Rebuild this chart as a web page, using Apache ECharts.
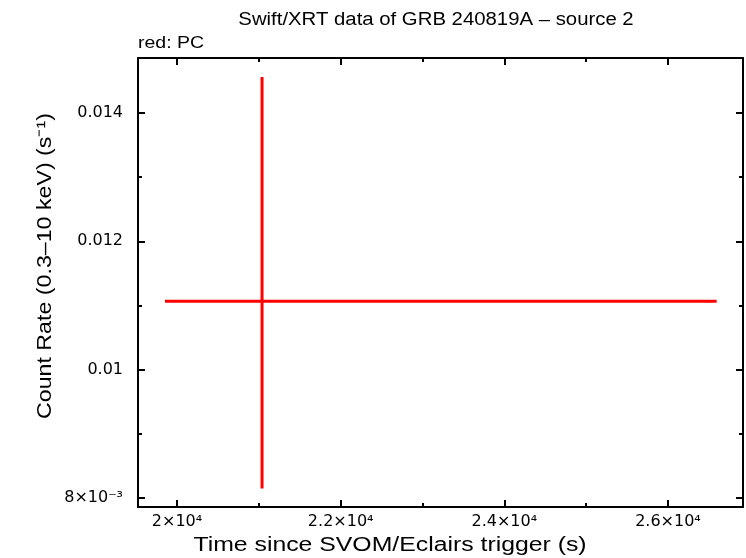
<!DOCTYPE html>
<html><head><meta charset="utf-8">
<script src="https://cdn.jsdelivr.net/npm/echarts@6/dist/echarts.min.js"></script>
<style>html,body{margin:0;padding:0;background:#fff}#c{width:746px;height:558px}</style>
</head><body><div id="c"></div>
<script>
// Data
const xCenter = [21039];
const xLow = [19853];
const xHigh = [26595];
const yCenter = [0.011065];
const yLow = [0.00815];
const yHigh = [0.014561];
// Axis ranges and tick labels
const xRange = [19523, 26917];
const yRange = [0.00786, 0.014857];
const xTickLabels = {20000: '2×10⁴', 22000: '2.2×10⁴', 24000: '2.4×10⁴', 26000: '2.6×10⁴'};
const yTickLabels = {8: '8×10⁻³', 10: '0.01', 12: '0.012', 14: '0.014'};
// Texts
const titleText = 'Swift/XRT data of GRB 240819A – source 2';
const subText = 'red: PC';
const xName = 'Time since SVOM/Eclairs trigger (s)';
const yName = 'Count Rate (0.3–10 keV) (s⁻¹)';

const FONT = '"Liberation Sans", Arial, Helvetica, sans-serif';
const TICKFONT = '"DejaVu Sans", sans-serif';
const chart = echarts.init(document.getElementById('c'), null, {renderer: 'canvas'});
const rows = xCenter.map((x, i) => [x, yCenter[i], xLow[i], xHigh[i], yLow[i], yHigh[i]]);

const baseX = {
  type: 'value', min: xRange[0], max: xRange[1],
  splitNumber: 4, minInterval: 2000, maxInterval: 2000,
  axisLine: {show: true, onZero: false, lineStyle: {color: '#000', width: 2}},
  axisTick: {show: true, inside: true, length: 7, lineStyle: {color: '#000', width: 2}},
  minorTick: {show: true, splitNumber: 2, length: 4, lineStyle: {color: '#000', width: 2}},
  splitLine: {show: false}, minorSplitLine: {show: false}
};
const baseY = {
  type: 'value', min: yRange[0], max: yRange[1],
  splitNumber: 4, minInterval: 0.002, maxInterval: 0.002,
  axisLine: {show: true, onZero: false, lineStyle: {color: '#000', width: 2}},
  axisTick: {show: true, inside: true, length: 7, lineStyle: {color: '#000', width: 2}},
  minorTick: {show: true, splitNumber: 2, length: 4, lineStyle: {color: '#000', width: 2}},
  splitLine: {show: false}, minorSplitLine: {show: false}
};

chart.setOption({
  animation: false,
  backgroundColor: '#fff',
  graphic: [
    {type: 'text', x: 436, y: 20, scaleX: 1.13,
     style: {text: titleText, font: '18px ' + FONT, fill: '#000', textAlign: 'center', textVerticalAlign: 'middle'}},
    {type: 'text', x: 138, y: 44, scaleX: 1.22,
     style: {text: subText, font: '16px ' + FONT, fill: '#000', textAlign: 'left', textVerticalAlign: 'middle'}},
    {type: 'text', x: 390, y: 545, scaleX: 1.24,
     style: {text: xName, font: '20px ' + FONT, fill: '#000', textAlign: 'center', textVerticalAlign: 'middle'}},
    {type: 'text', x: 45, y: 266, rotation: Math.PI / 2, scaleX: 1.16,
     style: {text: yName, font: '20px ' + FONT, fill: '#000', textAlign: 'center', textVerticalAlign: 'middle'}}
  ],
  grid: {left: 138, right: 3, top: 58, bottom: 51, containLabel: false},
  xAxis: [
    Object.assign({}, baseX, {
      position: 'bottom',
      axisLabel: {show: true, margin: 7, color: '#000', fontFamily: TICKFONT, fontSize: 16,
        showMinLabel: true, showMaxLabel: true,
        formatter: v => xTickLabels[Math.round(v)] !== undefined && Math.abs(v - Math.round(v)) < 1e-6 ? xTickLabels[Math.round(v)] : ''}
    }),
    Object.assign({}, baseX, {position: 'top', axisLabel: {show: false}})
  ],
  yAxis: [
    Object.assign({}, baseY, {
      position: 'left',
      axisLabel: {show: true, margin: 15, color: '#000', fontFamily: TICKFONT, fontSize: 16,
        formatter: v => { const k = Math.round(v * 1000); return (Math.abs(v * 1000 - k) < 1e-6 && yTickLabels[k] !== undefined) ? yTickLabels[k] : ''; }}
    }),
    Object.assign({}, baseY, {position: 'right', axisLabel: {show: false}})
  ],
  series: [{
    type: 'custom',
    xAxisIndex: 0, yAxisIndex: 0,
    data: rows,
    renderItem: function (params, api) {
      const l = api.coord([api.value(2), api.value(1)]);
      const r = api.coord([api.value(3), api.value(1)]);
      const b = api.coord([api.value(0), api.value(4)]);
      const t = api.coord([api.value(0), api.value(5)]);
      const style = {stroke: '#ff0000', lineWidth: 3};
      return {type: 'group', children: [
        {type: 'line', shape: {x1: l[0], y1: l[1], x2: r[0], y2: r[1]}, style: style},
        {type: 'line', shape: {x1: b[0], y1: b[1], x2: t[0], y2: t[1]}, style: style}
      ]};
    }
  }]
});
</script>
</body></html>
